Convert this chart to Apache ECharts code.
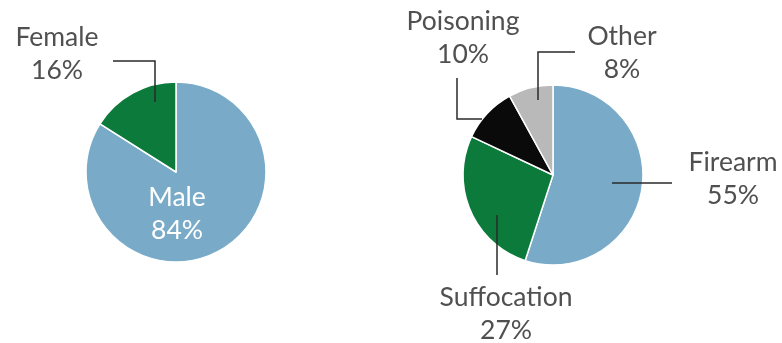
<!DOCTYPE html>
<html>
<head>
<meta charset="utf-8">
<script src="https://cdn.jsdelivr.net/npm/echarts@6/dist/echarts.min.js"></script>
<style>
  html, body { margin: 0; padding: 0; background: #fff; }
  #chart { width: 782px; height: 343px; }
</style>
</head>
<body>
<div id="chart"></div>
<script>
// Victims by sex
const sexNames = ['Male', 'Female'];
const sexValues = [84, 16];

// Victims by method
const methodNames = ['Firearm', 'Suffocation', 'Poisoning', 'Other'];
const methodValues = [55, 27, 10, 8];

// Slice colours
const sexColors = ['#79abc8', '#0b7a3b'];
const methodColors = ['#79abc8', '#0b7a3b', '#0a0a0a', '#b9b9b9'];

// Pie geometry (pixels)
const pies = [
  { center: [176, 172], radius: 90 },
  { center: [553, 175], radius: 90 }
];

// Label block centres and elbow leader lines, relative to each pie centre
const labelPlacement = {
  Male:        { at: [1, 42] },
  Female:      { at: [-119, -118], line: [[-21, -70], [-21, -111], [-63, -111]] },
  Firearm:     { at: [180, 4],     line: [[59, 8], [119, 8]] },
  Suffocation: { at: [-47, 139],   line: [[-56, 40], [-56, 100]] },
  Poisoning:   { at: [-90, -137],  line: [[-71, -56], [-96, -56], [-96, -97]] },
  Other:       { at: [69, -122],   line: [[-15, -75], [-15, -123], [22, -123]] }
};

const FONT = 'Lato, "Noto Sans", sans-serif';

function makeLayout(seriesIdx, names) {
  return function (params) {
    const p = pies[seriesIdx];
    const place = labelPlacement[names[params.dataIndex]];
    const out = {
      x: p.center[0] + place.at[0],
      y: p.center[1] + place.at[1],
      align: 'center',
      verticalAlign: 'middle'
    };
    if (place.line) {
      out.labelLinePoints = place.line.map(pt => [p.center[0] + pt[0], p.center[1] + pt[1]]);
    }
    return out;
  };
}

// Coloured slices, no labels
function slicesSeries(idx, names, values, colors) {
  return {
    type: 'pie',
    z: 2,
    center: pies[idx].center,
    radius: pies[idx].radius,
    startAngle: 90,
    clockwise: true,
    animation: false,
    silent: true,
    itemStyle: { borderColor: '#ffffff', borderWidth: 1.5 },
    label: { show: false },
    labelLine: { show: false },
    data: names.map((n, i) => ({ name: n, value: values[i], itemStyle: { color: colors[i] } }))
  };
}

// Same slices, transparent, drawn on top so the leader lines sit over the colour
function labelSeries(idx, names, values) {
  return {
    type: 'pie',
    z: 5,
    center: pies[idx].center,
    radius: pies[idx].radius,
    startAngle: 90,
    clockwise: true,
    avoidLabelOverlap: false,
    animation: false,
    silent: true,
    itemStyle: { color: 'rgba(0,0,0,0)', borderWidth: 0 },
    label: {
      show: true,
      formatter: '{b}\n{c}%',
      fontFamily: FONT,
      fontSize: 26.5,
      lineHeight: 33,
      color: '#505050',
      align: 'center'
    },
    labelLine: {
      show: true,
      lineStyle: { color: '#2a2a2a', width: 1.5 }
    },
    labelLayout: makeLayout(idx, names),
    data: names.map((n, i) => {
      const inside = !labelPlacement[n].line;
      return {
        name: n,
        value: values[i],
        label: inside ? { position: 'inside', color: '#ffffff' } : { position: 'outside' },
        labelLine: { show: !inside }
      };
    })
  };
}

const chart = echarts.init(document.getElementById('chart'), null, { renderer: 'canvas' });
chart.setOption({
  backgroundColor: '#ffffff',
  series: [
    slicesSeries(0, sexNames, sexValues, sexColors),
    slicesSeries(1, methodNames, methodValues, methodColors),
    labelSeries(0, sexNames, sexValues),
    labelSeries(1, methodNames, methodValues)
  ]
});
</script>
</body>
</html>
